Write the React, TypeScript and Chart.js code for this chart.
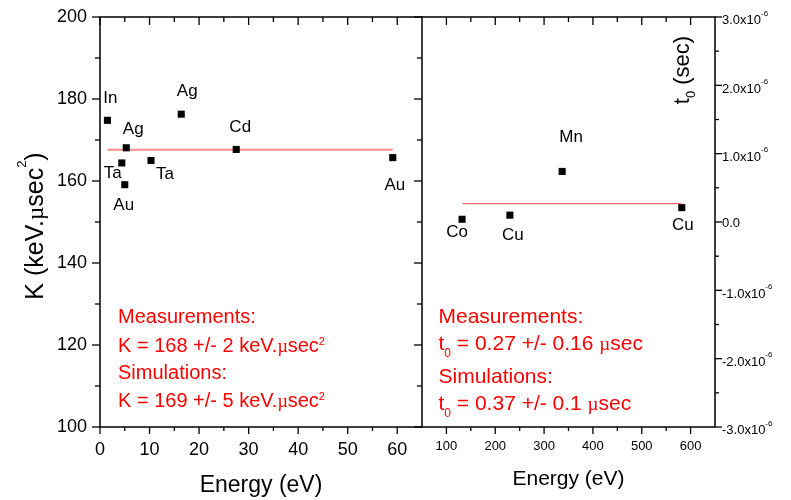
import React, { useEffect, useRef } from 'react';
import { Chart, registerables } from 'chart.js';

Chart.register(...registerables);

const SANS = '"Liberation Sans", Arial, Helvetica, sans-serif';
const SERIF = '"Liberation Serif", "Times New Roman", serif';
const RED = '#ff0000';

// ---------- left panel (K vs energy) ----------
const kEnergy = [1.5, 5.3, 4.4, 5.0, 10.3, 16.4, 27.5, 59.1];
const kValues = [174.8, 168.1, 164.4, 159.1, 165.0, 176.3, 167.7, 165.7];
const kElements = ['In', 'Ag', 'Ta', 'Au', 'Ta', 'Ag', 'Cd', 'Au'];
const kMean = 167.6;
const kMeanRange = [1.5, 59.1];
const kXTicks = [0, 10, 20, 30, 40, 50, 60];
const kYTicks = [100, 120, 140, 160, 180, 200];
const kXRange = [0, 65];
const kYRange = [100, 200];

// ---------- right panel (t0 vs energy) ----------
const tEnergy = [132, 230, 337, 582];
const tValues = [0.04e-6, 0.1e-6, 0.74e-6, 0.21e-6];
const tElements = ['Co', 'Cu', 'Mn', 'Cu'];
const tMean = 0.27e-6;
const tMeanRange = [133, 581];
const tXTicks = [100, 200, 300, 400, 500, 600];
const tYTicks = [-3e-6, -2e-6, -1e-6, 0, 1e-6, 2e-6, 3e-6];
const tXRange = [50, 650];
const tYRange = [-3e-6, 3e-6];

// label offsets (px, style only)
const kLabelOffsets = [[3, -22], [7, -18], [-9, 10], [-1, 21], [14, 14], [6, -23], [4, -22], [2, 28]];
const tLabelOffsets = [[-5, 13], [3, 20], [9, -34], [1, 18]];

type Seg = { t: string; size: number; serif?: boolean; dy?: number };

function segFont(s: Seg) {
  return `${s.size}px ${s.serif ? SERIF : SANS}`;
}
function richWidth(ctx: CanvasRenderingContext2D, segs: Seg[]) {
  let w = 0;
  for (const s of segs) {
    ctx.font = segFont(s);
    w += ctx.measureText(s.t).width;
  }
  return w;
}
function drawRich(ctx: CanvasRenderingContext2D, segs: Seg[], x: number, baseline: number, align: 'left' | 'center' | 'right', color: string) {
  const w = richWidth(ctx, segs);
  let cx = align === 'center' ? x - w / 2 : align === 'right' ? x - w : x;
  ctx.save();
  ctx.fillStyle = color;
  ctx.textAlign = 'left';
  ctx.textBaseline = 'alphabetic';
  for (const s of segs) {
    ctx.font = segFont(s);
    ctx.fillText(s.t, cx, baseline + (s.dy || 0));
    cx += ctx.measureText(s.t).width;
  }
  ctx.restore();
}
function drawRichRotated(ctx: CanvasRenderingContext2D, segs: Seg[], cx: number, cy: number, baseOff: number, color: string) {
  ctx.save();
  ctx.translate(cx, cy);
  ctx.rotate(-Math.PI / 2);
  drawRich(ctx, segs, 0, baseOff, 'center', color);
  ctx.restore();
}

const mids = (arr: number[]) => arr.slice(1).map((v, i) => (v + arr[i]) / 2);

function tickLine(ctx: CanvasRenderingContext2D, x1: number, y1: number, x2: number, y2: number) {
  ctx.beginPath();
  ctx.moveTo(x1, y1);
  ctx.lineTo(x2, y2);
  ctx.stroke();
}

const leftDecor = {
  id: 'leftDecor',
  afterDraw(chart: any) {
    const ctx: CanvasRenderingContext2D = chart.ctx;
    const { left, right, top, bottom } = chart.chartArea;
    const xs = chart.scales.x;
    const ys = chart.scales.y;
    ctx.save();
    ctx.strokeStyle = '#000';
    ctx.lineWidth = 1.5;
    ctx.strokeRect(left, top, right - left, bottom - top);
    ctx.lineWidth = 1.3;
    for (const v of kXTicks) {
      const p = xs.getPixelForValue(v);
      tickLine(ctx, p, bottom, p, bottom + 7);
      tickLine(ctx, p, top, p, top + 8);
    }
    for (const v of mids(kXTicks)) {
      const p = xs.getPixelForValue(v);
      tickLine(ctx, p, bottom, p, bottom + 4);
      tickLine(ctx, p, top, p, top + 5);
    }
    for (const v of kYTicks) {
      const p = ys.getPixelForValue(v);
      tickLine(ctx, left - 8, p, left, p);
      tickLine(ctx, right - 8, p, right, p);
    }
    for (const v of mids(kYTicks)) {
      const p = ys.getPixelForValue(v);
      tickLine(ctx, left - 5, p, left, p);
      tickLine(ctx, right - 5, p, right, p);
    }
    ctx.restore();

    // point labels
    const meta = chart.getDatasetMeta(0);
    ctx.save();
    ctx.fillStyle = '#000';
    ctx.font = `17px ${SANS}`;
    ctx.textAlign = 'center';
    ctx.textBaseline = 'middle';
    meta.data.forEach((el: any, i: number) => {
      const [dx, dy] = kLabelOffsets[i];
      ctx.fillText(kElements[i], el.x + dx, el.y + dy);
    });
    ctx.restore();

    // axis titles
    drawRich(ctx, [{ t: 'Energy (eV)', size: 23 }], (left + right) / 2, 492, 'center', '#000');
    drawRichRotated(
      ctx,
      [
        { t: 'K (keV.', size: 25 },
        { t: 'µ', size: 23, serif: true },
        { t: 'sec', size: 25 },
        { t: '2', size: 13, dy: -17 },
        { t: ')', size: 25 },
      ],
      34,
      226,
      9,
      '#000'
    );

    // notes
    const nx = left + 18;
    drawRich(ctx, [{ t: 'Measurements:', size: 20 }], nx, 323, 'left', RED);
    drawRich(ctx, [{ t: 'K = 168 +/- 2 keV.', size: 20 }, { t: 'µ', size: 18, serif: true }, { t: 'sec', size: 20 }, { t: '2', size: 11, dy: -7 }], nx, 351.5, 'left', RED);
    drawRich(ctx, [{ t: 'Simulations:', size: 20 }], nx, 378.5, 'left', RED);
    drawRich(ctx, [{ t: 'K = 169 +/- 5 keV.', size: 20 }, { t: 'µ', size: 18, serif: true }, { t: 'sec', size: 20 }, { t: '2', size: 11, dy: -7 }], nx, 406.5, 'left', RED);
  },
};

const rightDecor = {
  id: 'rightDecor',
  afterDraw(chart: any) {
    const ctx: CanvasRenderingContext2D = chart.ctx;
    const { left, right, top, bottom } = chart.chartArea;
    const xs = chart.scales.x;
    const ys = chart.scales.y;
    ctx.save();
    ctx.strokeStyle = '#000';
    ctx.lineWidth = 1.5;
    ctx.beginPath();
    ctx.moveTo(left, top);
    ctx.lineTo(right, top);
    ctx.lineTo(right, bottom);
    ctx.lineTo(left, bottom);
    ctx.stroke();
    ctx.lineWidth = 1.3;
    for (const v of tXTicks) {
      const p = xs.getPixelForValue(v);
      tickLine(ctx, p, bottom, p, bottom + 7);
      tickLine(ctx, p, top, p, top + 8);
    }
    for (const v of mids(tXTicks)) {
      const p = xs.getPixelForValue(v);
      tickLine(ctx, p, bottom, p, bottom + 4);
      tickLine(ctx, p, top, p, top + 5);
    }
    for (const v of tYTicks) {
      const p = ys.getPixelForValue(v);
      tickLine(ctx, right, p, right + 7, p);
    }
    for (const v of mids(tYTicks)) {
      const p = ys.getPixelForValue(v);
      tickLine(ctx, right, p, right + 4, p);
    }
    ctx.restore();

    // right y tick labels (with exponent)
    for (const v of tYTicks) {
      const p = ys.getPixelForValue(v);
      if (v === 0) {
        drawRich(ctx, [{ t: '0.0', size: 13 }], right + 7, p + 4.7, 'left', '#000');
      } else {
        const m = (v * 1e6).toFixed(1);
        drawRich(ctx, [{ t: `${m}x10`, size: 13 }, { t: '-6', size: 8, dy: -8.5 }], right + 7, p + 7.2, 'left', '#000');
      }
    }

    // point labels
    const meta = chart.getDatasetMeta(0);
    ctx.save();
    ctx.fillStyle = '#000';
    ctx.font = `17px ${SANS}`;
    ctx.textAlign = 'center';
    ctx.textBaseline = 'middle';
    meta.data.forEach((el: any, i: number) => {
      const [dx, dy] = tLabelOffsets[i];
      ctx.fillText(tElements[i], el.x + dx, el.y + dy);
    });
    ctx.restore();

    // titles
    drawRich(ctx, [{ t: 'Energy (eV)', size: 21 }], (left + right) / 2, 485, 'center', '#000');
    drawRichRotated(
      ctx,
      [
        { t: 't', size: 22 },
        { t: '0', size: 13, dy: 6 },
        { t: ' (sec)', size: 22 },
      ],
      right - 34,
      70,
      8,
      '#000'
    );

    // notes
    const nx = left + 16.5;
    drawRich(ctx, [{ t: 'Measurements:', size: 21 }], nx, 323.3, 'left', RED);
    drawRich(ctx, [{ t: 't', size: 21 }, { t: '0', size: 12, dy: 7 }, { t: ' = 0.27 +/- 0.16 ', size: 21 }, { t: 'µ', size: 19, serif: true }, { t: 'sec', size: 21 }], nx, 350, 'left', RED);
    drawRich(ctx, [{ t: 'Simulations:', size: 21 }], nx, 383.3, 'left', RED);
    drawRich(ctx, [{ t: 't', size: 21 }, { t: '0', size: 12, dy: 7 }, { t: ' = 0.37 +/- 0.1 ', size: 21 }, { t: 'µ', size: 19, serif: true }, { t: 'sec', size: 21 }], nx, 410, 'left', RED);
  },
};

function setTicks(list: number[]) {
  return (s: any) => {
    s.ticks = list.map((v) => ({ value: v }));
  };
}
function fitBox(w: number | null, h: number | null) {
  return (s: any) => {
    if (w !== null) s.width = w;
    if (h !== null) s.height = h;
    s.paddingTop = 0;
    s.paddingBottom = 0;
    s.paddingLeft = 0;
    s.paddingRight = 0;
  };
}

export default function App() {
  const leftRef = useRef<HTMLCanvasElement>(null);
  const rightRef = useRef<HTMLCanvasElement>(null);

  useEffect(() => {
    const lc = new Chart(leftRef.current as HTMLCanvasElement, {
      type: 'scatter',
      data: {
        datasets: [
          {
            data: kEnergy.map((x, i) => ({ x, y: kValues[i] })),
            pointStyle: 'rect',
            pointRadius: 5,
            backgroundColor: '#000',
            borderColor: '#000',
            borderWidth: 0,
          },
          {
            data: kMeanRange.map((x) => ({ x, y: kMean })),
            showLine: true,
            pointRadius: 0,
            borderColor: 'rgba(255,120,120,0.85)',
            borderWidth: 2,
          },
        ],
      },
      options: {
        animation: false,
        responsive: false,
        maintainAspectRatio: false,
        layout: { padding: { left: 0, right: 10, top: 17, bottom: 0 } },
        plugins: { legend: { display: false }, tooltip: { enabled: false } },
        scales: {
          x: {
            type: 'linear',
            min: kXRange[0],
            max: kXRange[1],
            afterBuildTicks: setTicks(kXTicks),
            afterFit: fitBox(null, 73),
            grid: { display: false, drawTicks: false },
            border: { display: false },
            ticks: { font: { family: SANS, size: 18 }, color: '#000', padding: 12, maxRotation: 0, autoSkip: false },
          },
          y: {
            type: 'linear',
            min: kYRange[0],
            max: kYRange[1],
            afterBuildTicks: setTicks(kYTicks),
            afterFit: fitBox(100, null),
            grid: { display: false, drawTicks: false },
            border: { display: false },
            ticks: { font: { family: SANS, size: 18 }, color: '#000', padding: 13, autoSkip: false },
          },
        },
      },
      plugins: [leftDecor],
    } as any);

    const rc = new Chart(rightRef.current as HTMLCanvasElement, {
      type: 'scatter',
      data: {
        datasets: [
          {
            data: tEnergy.map((x, i) => ({ x, y: tValues[i] })),
            pointStyle: 'rect',
            pointRadius: 5,
            backgroundColor: '#000',
            borderColor: '#000',
            borderWidth: 0,
          },
          {
            data: tMeanRange.map((x) => ({ x, y: tMean })),
            showLine: true,
            pointRadius: 0,
            borderColor: 'rgba(255,90,90,0.9)',
            borderWidth: 1.2,
          },
        ],
      },
      options: {
        animation: false,
        responsive: false,
        maintainAspectRatio: false,
        layout: { padding: { left: 10, right: 76, top: 17, bottom: 0 } },
        plugins: { legend: { display: false }, tooltip: { enabled: false } },
        scales: {
          x: {
            type: 'linear',
            min: tXRange[0],
            max: tXRange[1],
            afterBuildTicks: setTicks(tXTicks),
            afterFit: fitBox(null, 73),
            grid: { display: false, drawTicks: false },
            border: { display: false },
            ticks: { font: { family: SANS, size: 13 }, color: '#000', padding: 12, maxRotation: 0, autoSkip: false },
          },
          y: {
            type: 'linear',
            display: false,
            min: tYRange[0],
            max: tYRange[1],
          },
        },
      },
      plugins: [rightDecor],
    } as any);

    return () => {
      lc.destroy();
      rc.destroy();
    };
  }, []);

  return (
    <div style={{ position: 'fixed', left: 0, top: 0, width: 791, height: 500, background: '#fff', overflow: 'hidden' }}>
      <canvas ref={leftRef} width={432} height={500} style={{ position: 'absolute', left: 0, top: 0, width: 432, height: 500 }} />
      <canvas ref={rightRef} width={379} height={500} style={{ position: 'absolute', left: 412, top: 0, width: 379, height: 500 }} />
    </div>
  );
}
